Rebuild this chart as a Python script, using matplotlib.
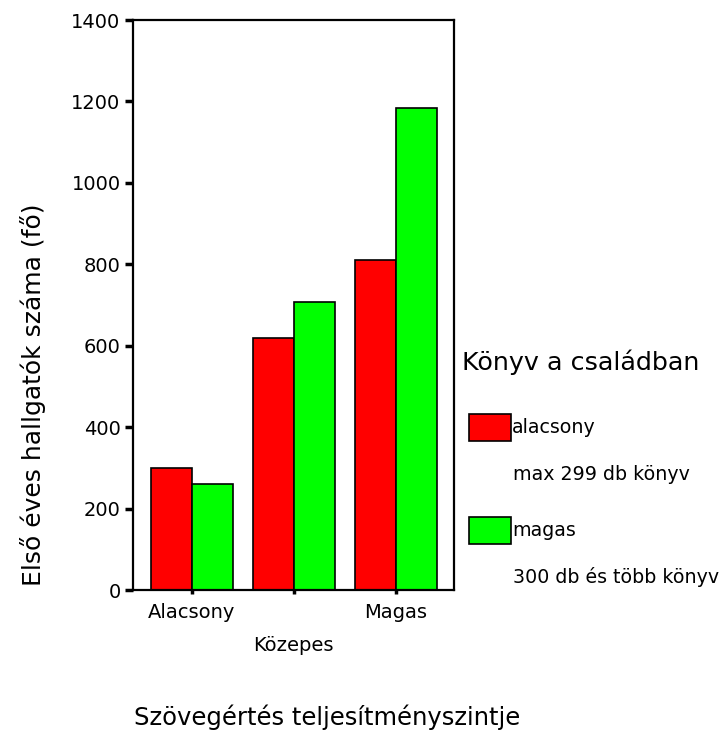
import matplotlib.pyplot as plt
import matplotlib.patches as mpatches
import numpy as np

plt.rcParams["font.family"] = ["DejaVu Sans"]

categories = ["Alacsony", "Közepes", "Magas"]
series_names = ["alacsony", "magas"]
series_notes = ["max 299 db könyv", "300 db és több könyv"]
low_books = [299, 618, 810]
high_books = [260, 707, 1183]
colors = ["#ff0000", "#00ff00"]

W, H = 723, 734
fig = plt.figure(figsize=(W / 100, H / 100), dpi=100)
ax = fig.add_axes([133 / W, 1 - 590 / H, 321 / W, 570 / H])

x = np.arange(len(categories))
width = 0.4
for i, (vals, col) in enumerate(zip([low_books, high_books], colors)):
    ax.bar(x + (i - 0.5) * width, vals, width, color=col, edgecolor="black", linewidth=1.2)

ax.set_xlim(-0.575, 2.57)
ax.set_ylim(0, 1400)
ax.set_yticks(range(0, 1401, 200))
ax.set_xticks(x)
ax.set_xticklabels(categories, fontsize=14)
ax.tick_params(axis="y", direction="out", length=6, width=2.5, labelsize=14, pad=3)
ax.tick_params(axis="x", direction="out", length=3, width=2.5, pad=6)
# staggered category labels, middle one lower
ax.xaxis.get_major_ticks()[1].set_pad(30)
for s in ax.spines.values():
    s.set_linewidth(1.6)

fig.text(33 / W, 1 - 395 / H, "Első éves hallgatók száma (fő)", fontsize=18,
         rotation=90, ha="center", va="center")
fig.text(327 / W, 1 - 717 / H, "Szövegértés teljesítményszintje", fontsize=17.5,
         ha="center", va="center")

# legend
fig.text(462 / W, 1 - 362 / H, "Könyv a családban", fontsize=18.3, ha="left", va="center")
for name, note, col, y in zip(series_names, series_notes, colors, [428, 531]):
    fig.add_artist(mpatches.Rectangle((469 / W, 1 - (y + 13) / H), 42 / W, 27 / H,
                                      transform=fig.transFigure, facecolor=col,
                                      edgecolor="black", linewidth=1.2))
    fig.text(512 / W, 1 - y / H, name, fontsize=13.7, ha="left", va="center")
    fig.text(513 / W, 1 - (y + 46) / H, note, fontsize=13.7, ha="left", va="center")

fig.savefig("out.png", dpi=100)
